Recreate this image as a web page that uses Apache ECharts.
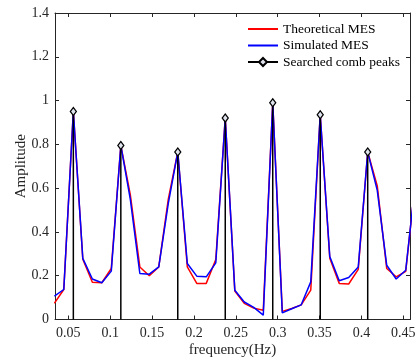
<!DOCTYPE html>
<html>
<head>
<meta charset="utf-8">
<script src="https://cdn.jsdelivr.net/npm/echarts@6/dist/echarts.min.js"></script>
<style>
html,body{margin:0;padding:0;background:#fff;}
#c{width:416px;height:362px;}
</style>
</head>
<body>
<div id="c"></div>
<script>
// ---- data ----
var freq = [0.0333,0.0446,0.0560,0.0673,0.0787,0.0900,0.1013,0.1127,0.1240,0.1354,
            0.1467,0.1580,0.1694,0.1807,0.1921,0.2034,0.2147,0.2261,0.2374,0.2488,
            0.2601,0.2714,0.2828,0.2941,0.3055,0.3168,0.3281,0.3395,0.3508,0.3622,
            0.3735,0.3848,0.3962,0.4075,0.4189,0.4302,0.4415,0.4529,0.4642];
var theoretical = [0.074,0.137,0.95,0.275,0.17,0.168,0.233,0.795,0.57,0.24,
                   0.20,0.24,0.55,0.765,0.24,0.165,0.165,0.274,0.92,0.13,
                   0.074,0.052,0.042,0.99,0.037,0.05,0.067,0.134,0.935,0.28,
                   0.165,0.162,0.229,0.765,0.61,0.233,0.195,0.22,0.62];
var simulated = [0.107,0.137,0.95,0.279,0.185,0.168,0.221,0.795,0.55,0.21,
                 0.207,0.24,0.53,0.765,0.256,0.198,0.195,0.259,0.92,0.134,
                 0.08,0.055,0.02,0.99,0.03,0.049,0.067,0.172,0.935,0.288,
                 0.177,0.192,0.24,0.765,0.59,0.248,0.185,0.225,0.62];
var peakFreq = [0.0560,0.1127,0.1807,0.2374,0.2941,0.3508,0.4075];
var peakAmp  = [0.95,0.795,0.765,0.92,0.99,0.935,0.765];
var xTicks = [0.05,0.1,0.15,0.2,0.25,0.3,0.35,0.4,0.45];
var yTicks = [0,0.2,0.4,0.6,0.8,1,1.2,1.4];
var seriesNames = ['Theoretical MES','Simulated MES','Searched comb peaks'];

// ---- build ----
function pairs(xs, ys){ return xs.map(function(x,i){ return [x, ys[i]]; }); }
var stemData = [];
peakFreq.forEach(function(f,i){
  stemData.push({value:[f,0], symbol:'none'});
  stemData.push({value:[f,peakAmp[i]]});
  stemData.push({value:[f,'-'], symbol:'none'});
});

var FONT = '"Liberation Serif","Times New Roman",serif';
var AX = '#262626';
function xAx(pos, showLabel, name){
  return {
    type:'value', position:pos, min:0.0341, max:0.458,
    axisLine:{show:true, onZero:false, lineStyle:{color:AX, width:1}},
    axisTick:{show:true, inside:true, length:4, customValues:xTicks, lineStyle:{color:AX}},
    axisLabel:{show:showLabel, customValues:xTicks, fontFamily:FONT, fontSize:14, color:AX, margin:7},
    splitLine:{show:false},
    name:name, nameLocation:'middle', nameGap:23, nameMoveOverlap:false,
    nameTextStyle:{fontFamily:FONT, fontSize:15, color:AX}
  };
}
function yAx(pos, showLabel, name){
  return {
    type:'value', position:pos, min:0, max:1.4,
    axisLine:{show:true, onZero:false, lineStyle:{color:AX, width:1}},
    axisTick:{show:true, inside:true, length:4, customValues:yTicks, lineStyle:{color:AX}},
    axisLabel:{show:showLabel, customValues:yTicks, fontFamily:FONT, fontSize:14, color:AX, margin:6},
    splitLine:{show:false},
    name:name, nameLocation:'middle', nameGap:26, nameMoveOverlap:false,
    nameTextStyle:{fontFamily:FONT, fontSize:15, color:AX}
  };
}

var hiddenSym = {color:'rgba(0,0,0,0)', borderColor:'rgba(0,0,0,0)', borderWidth:0, opacity:0};
var chart = echarts.init(document.getElementById('c'), null, {renderer:'canvas'});
chart.setOption({
  animation:false,
  backgroundColor:'#fff',
  grid:{left:55, right:6, top:13, bottom:42.5, containLabel:false, outerBoundsMode:'none'},
  legend:{
    left:242, top:17, orient:'vertical', itemWidth:30, itemHeight:10, itemGap:2.5,
    textStyle:{fontFamily:FONT, fontSize:13.5, color:'#000'},
    data:[
      {name:seriesNames[0], itemStyle:hiddenSym},
      {name:seriesNames[1], itemStyle:hiddenSym},
      {name:seriesNames[2]}
    ]
  },
  xAxis:[xAx('bottom', true, 'frequency(Hz)'), xAx('top', false, '')],
  yAxis:[yAx('left', true, 'Amplitude'), yAx('right', false, '')],
  series:[
    {name:seriesNames[0], type:'line', data:pairs(freq, theoretical), showSymbol:false, symbol:'none',
     lineStyle:{color:'#ff0000', width:1.5}, itemStyle:{color:'#ff0000'}, z:2},
    {name:seriesNames[1], type:'line', data:pairs(freq, simulated), showSymbol:false, symbol:'none',
     lineStyle:{color:'#0000ff', width:1.5}, itemStyle:{color:'#0000ff'}, z:3},
    {name:seriesNames[2], type:'line', data:stemData, symbol:'diamond', symbolSize:[6,8],
     connectNulls:false,
     lineStyle:{color:'#000', width:1.5}, itemStyle:{color:'#dfe3ee', borderColor:'#000', borderWidth:1.3}, z:4}
  ]
});
</script>
</body>
</html>
